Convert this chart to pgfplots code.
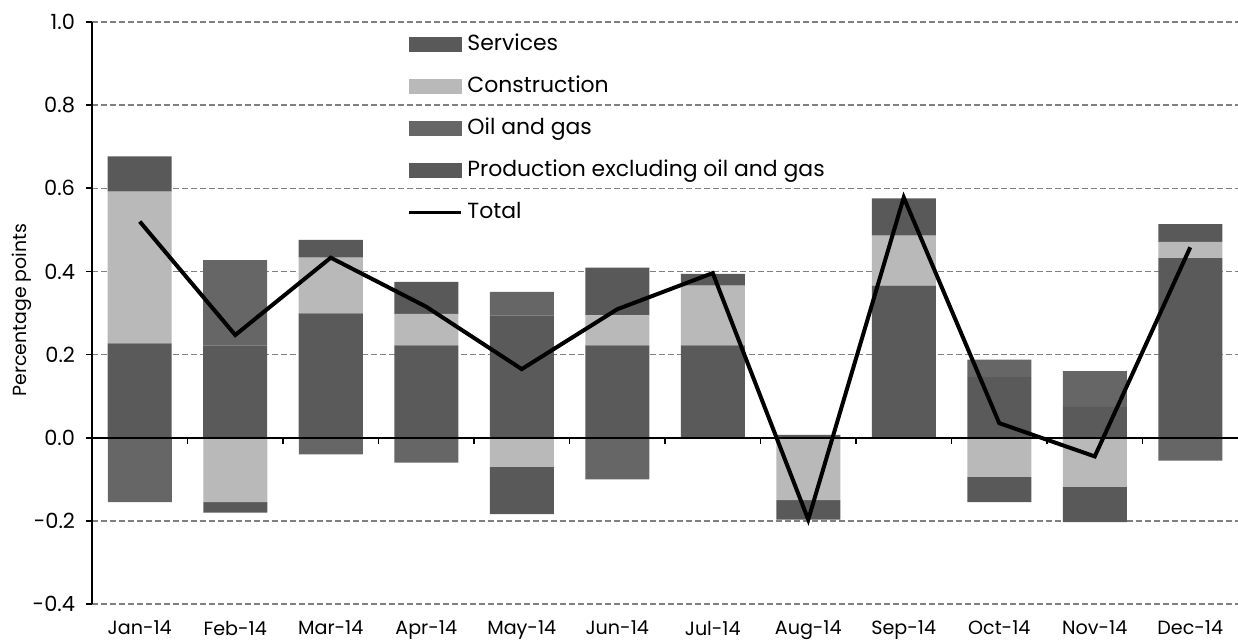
\documentclass[border=0pt]{standalone}
\usepackage{fontspec}
\setmainfont{Poppins}
\usepackage{pgfplots}
\pgfplotsset{compat=1.18}
\definecolor{cServ}{HTML}{595959}
\definecolor{cCons}{HTML}{B9B9B9}
\definecolor{cOil}{HTML}{666666}
\definecolor{cProd}{HTML}{5A5A5A}
\definecolor{cGrid}{HTML}{808080}
\begin{document}
\begin{tikzpicture}
\useasboundingbox (-46bp,-18.5bp) rectangle (573bp,302bp);
\pgfplotsset{
  base/.style={
    scale only axis, width=573bp, height=291bp,
    at={(0,0)}, anchor=south west,
    xmin=-0.5, xmax=11.5, ymin=-0.4, ymax=1.0,
  },
}
% positive bars with axis frame
\begin{axis}[base,
  ybar stacked, bar width=32bp,
  axis x line*=bottom, axis y line*=left,
  x axis line style={draw=none},
  y axis line style={black, line width=1bp, -},
  xtick={0,...,11},
  xticklabels={Jan-14,Feb-14,Mar-14,Apr-14,May-14,Jun-14,Jul-14,Aug-14,Sep-14,Oct-14,Nov-14,Dec-14},
  xtick style={draw=none},
  xticklabel style={font=\fontsize{9.6}{12}\selectfont, yshift=-2bp},
  ytick={-0.4,-0.2,0,0.2,0.4,0.6,0.8,1.0},
  yticklabels={\mbox{-0.4},\mbox{-0.2},\mbox{0.0},\mbox{0.2},\mbox{0.4},\mbox{0.6},\mbox{0.8},\mbox{1.0}},
  yticklabel style={font=\fontsize{10.5}{12}\selectfont, xshift=-2bp},
  ytick style={black, line width=0.8bp},
  tick align=outside, major tick length=3bp,
  ymajorgrids, grid style={cGrid, line width=0.7bp, dash pattern=on 3bp off 1.5bp},
  ylabel={Percentage points},
  ylabel style={font=\fontsize{9.5}{11}\selectfont, at={(rel axis cs:0,0.505)}, anchor=center, yshift=35bp},
]
% positive parts: Production, Oil and gas, Construction, Services
\addplot[fill=cProd, draw=none] coordinates {(0,0.227) (1,0.222) (2,0.299) (3,0.222) (4,0.294) (5,0.222) (6,0.222) (7,0.007) (8,0.366) (9,0.146) (10,0.074) (11,0.432)};
\addplot[fill=cOil, draw=none] coordinates {(0,0) (1,0.205) (2,0) (3,0) (4,0.057) (5,0) (6,0) (7,0) (8,0) (9,0.042) (10,0.086) (11,0)};
\addplot[fill=cCons, draw=none] coordinates {(0,0.365) (1,0) (2,0.134) (3,0.076) (4,0) (5,0.072) (6,0.144) (7,0) (8,0.120) (9,0) (10,0) (11,0.039)};
\addplot[fill=cServ, draw=none] coordinates {(0,0.085) (1,0) (2,0.043) (3,0.077) (4,0) (5,0.115) (6,0.028) (7,0) (8,0.090) (9,0) (10,0) (11,0.043)};
\end{axis}
% negative bars
\begin{axis}[base, ybar stacked, bar width=32bp, axis lines=none, ticks=none]
\addplot[fill=cOil, draw=none] coordinates {(0,-0.155) (1,0) (2,-0.040) (3,-0.060) (4,0) (5,-0.100) (6,0) (7,0) (8,0) (9,0) (10,0) (11,-0.055)};
\addplot[fill=cCons, draw=none] coordinates {(0,0) (1,-0.155) (2,0) (3,0) (4,-0.070) (5,0) (6,0) (7,-0.150) (8,0) (9,-0.094) (10,-0.118) (11,0)};
\addplot[fill=cServ, draw=none] coordinates {(0,0) (1,-0.025) (2,0) (3,0) (4,-0.114) (5,0) (6,0) (7,-0.047) (8,0) (9,-0.061) (10,-0.085) (11,0)};
\end{axis}
% zero line with category ticks, total line and legend
\begin{axis}[base,
  axis x line=middle, axis y line=none,
  x axis line style={black, line width=1bp, -},
  xtick={0.5,1.5,...,10.5}, xticklabels={},
  xtick style={black, line width=0.8bp},
  tick align=outside, major tick length=3bp,
  ytick=\empty,
  legend style={at={(rel axis cs:0.2749,0.983)}, anchor=north west, draw=none, fill=none,
    font=\fontsize{11}{13}\selectfont, row sep=9bp, column sep=2.5bp, inner sep=0pt,
    nodes={inner sep=0pt, text height=9bp, text depth=3bp}},
  legend cell align=left,
]
\addlegendimage{legend image code/.code={\fill[cServ] (0bp,-3.5bp) rectangle (26bp,3.5bp);}}
\addlegendentry{Services}
\addlegendimage{legend image code/.code={\fill[cCons] (0bp,-3.5bp) rectangle (26bp,3.5bp);}}
\addlegendentry{Construction}
\addlegendimage{legend image code/.code={\fill[cOil] (0bp,-3.5bp) rectangle (26bp,3.5bp);}}
\addlegendentry{Oil and gas}
\addlegendimage{legend image code/.code={\fill[cProd] (0bp,-3.5bp) rectangle (26bp,3.5bp);}}
\addlegendentry{Production excluding oil and gas}
\addplot[black, line width=2bp, line join=miter, mark=none,
  legend image code/.code={\draw[black, line width=1.5bp] (0bp,0bp) -- (26bp,0bp);}]
  coordinates {(0,0.520) (1,0.247) (2,0.433) (3,0.315) (4,0.165) (5,0.309) (6,0.396) (7,-0.197) (8,0.578) (9,0.035) (10,-0.045) (11,0.458)};
\addlegendentry{Total}
\end{axis}
\end{tikzpicture}
\end{document}
